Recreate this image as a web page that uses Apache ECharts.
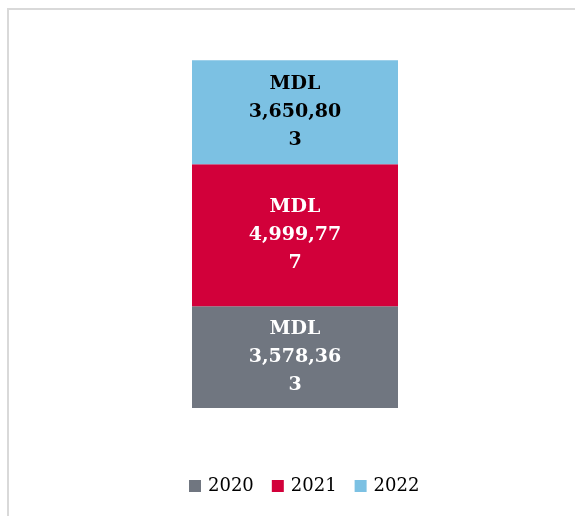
<html>
<head>
<meta charset="utf-8" />
<title>MDL</title>
<style>
html, body { margin: 0; padding: 0; background: #fff; }
</style>
</head>
<body>
<div id="main" style="width:575px;height:516px;"></div>
<script src="https://cdn.jsdelivr.net/npm/echarts@6/dist/echarts.min.js"></script>
<script>
// data
var categories = ['Total'];
var years = ['2020', '2021', '2022'];
var values2020 = [3578363];
var values2021 = [4999777];
var values2022 = [3650803];
var colors = ['#707680', '#D2003A', '#7CC1E3'];
var labelColors = ['#ffffff', '#ffffff', '#000000'];

function fmt(v) {
	var s = v.toLocaleString('en-US');
	// wraps like the original box: 8 chars a line
	return 'MDL\n' + s.slice(0, 8) + (s.length > 8 ? '\n' + s.slice(8) : '');
}

var allValues = [values2020, values2021, values2022];
var series = years.map(function (y, i) {
	return {
		name: y,
		type: 'bar',
		stack: 'total',
		barWidth: '100%',
		data: allValues[i],
		itemStyle: { color: colors[i] },
		label: {
			show: true,
			position: 'inside',
			formatter: function (p) { return fmt(p.value); },
			color: labelColors[i],
			fontFamily: 'DejaVu Serif',
			fontWeight: 'bold',
			fontSize: 19,
			lineHeight: 28
		}
	};
});

var myChart = echarts.init(document.getElementById('main'));
var option = {
	animation: false,
	graphic: [{
		type: 'polyline',
		shape: { points: [[8, 600], [8, 9], [700, 9]] },
		style: { fill: 'none', stroke: '#d9d9d9', lineWidth: 2 },
		z: -1
	}],
	legend: {
		data: years,
		bottom: 16,
		left: 184,
		itemWidth: 12,
		itemHeight: 12,
		itemGap: 18,
		icon: 'rect',
		textStyle: { fontFamily: 'DejaVu Serif', fontSize: 18, color: '#000', padding: [0, 0, 0, 2] }
	},
	grid: { left: 192, right: 177, top: 10, bottom: 108 },
	xAxis: { type: 'category', data: categories, show: false },
	yAxis: { type: 'value', min: 0, max: 14000000, show: false },
	series: series
};
myChart.setOption(option);
</script>
</body>
</html>
